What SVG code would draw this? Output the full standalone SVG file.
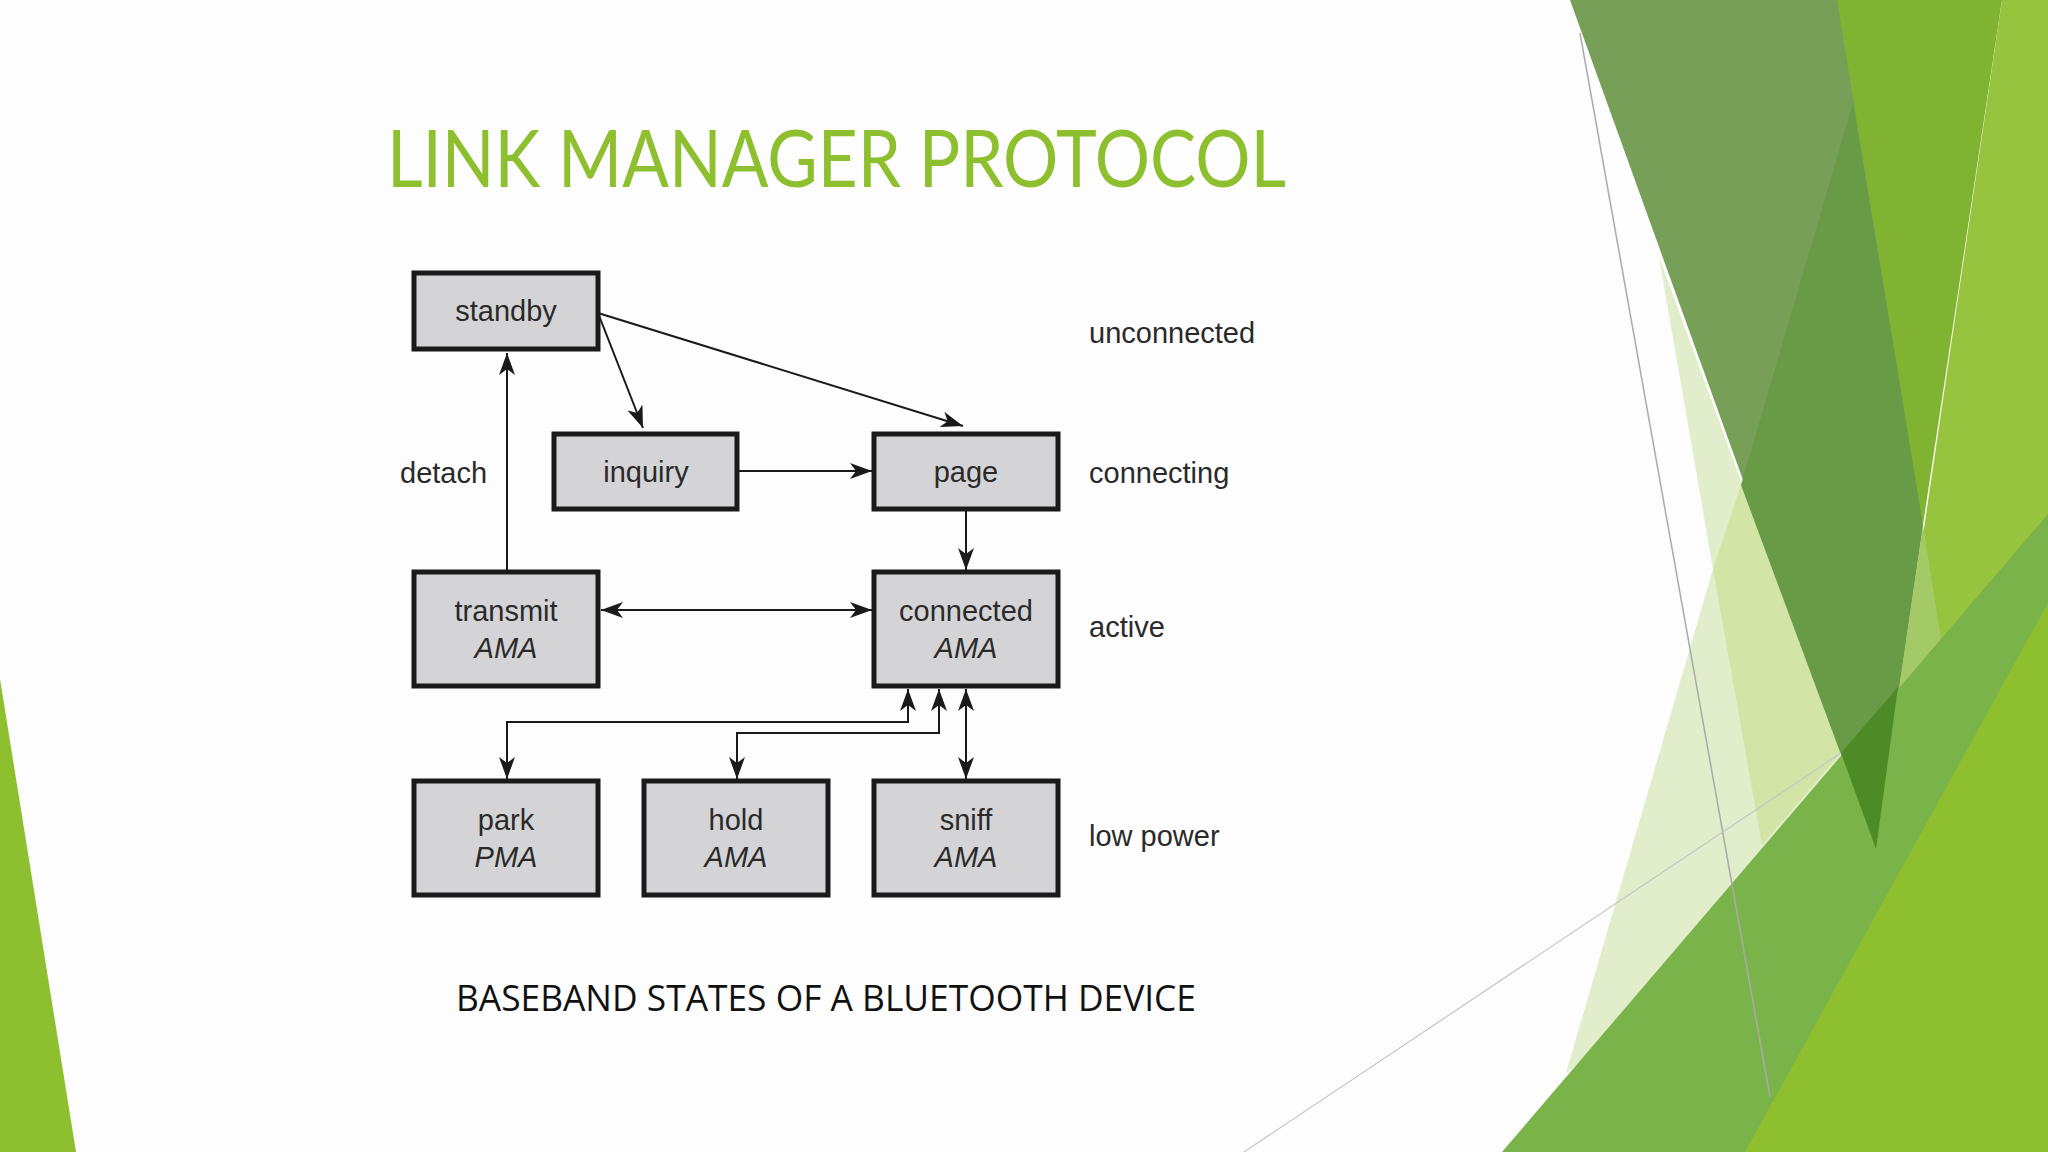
<svg xmlns="http://www.w3.org/2000/svg" width="2048" height="1152" viewBox="0 0 2048 1152">
<style>
.box{fill:#d4d4d6;stroke:#1a1a1a;stroke-width:5}
.t{font-family:"Liberation Sans",Arial,sans-serif;font-size:29px;fill:#2a2a2a;text-anchor:middle}
.i{font-style:italic}
.lbl{font-family:"Liberation Sans",Arial,sans-serif;font-size:29px;fill:#2a2a2a}
.c{fill:none;stroke:#1a1a1a;stroke-width:2}
</style>
<defs>
<marker id="a" markerUnits="userSpaceOnUse" markerWidth="24" markerHeight="16" refX="22" refY="8" orient="auto-start-reverse">
<path d="M0,0 L22,8 L0,16 L6,8 Z" fill="#1a1a1a"/>
</marker>
</defs>
<rect width="2048" height="1152" fill="#fdfdfd"/>
<g id="background">
<polygon points="0,679 76,1152 0,1152" fill="#8dbf2f"/>
<polygon points="1659,257 1876,849 1566,1073 1713,569" fill="#e2edcb"/>
<polygon points="1741,485 1841,753 1762,845 1713,569" fill="#d3e5a6"/>
<polygon points="1570,0 1855,0 1923,525 1876,849" fill="#789f58"/>
<polygon points="1853,103 1923,525 1876,849 1741,485" fill="#699a45"/>
<polygon points="1837,0 2002,0 1923,525" fill="#80b332"/>
<polygon points="2002,0 2048,0 2048,1152 1832,1152" fill="#97c43e"/>
<polygon points="1923,525 1960,760 1888,889 1863,933" fill="#a3ca66"/>
<polygon points="1502,1152 2048,514 2048,1152" fill="#7ab34a"/>
<polygon points="1841,753 1898,687 1876,849" fill="#4e8b26"/>
<polygon points="1745,1152 2048,603 2048,1152" fill="#8ebf2e"/>
<line x1="1580" y1="33" x2="1770" y2="1097" stroke="#aaa" stroke-width="1.5"/>
<line x1="1244" y1="1152" x2="1841" y2="753" stroke="#c4c4c4" stroke-width="1.2"/>
</g>
<text x="387" y="187" font-family="Lato,'Open Sans',sans-serif" font-size="80" fill="#8dbf2f" textLength="899" lengthAdjust="spacingAndGlyphs">LINK MANAGER PROTOCOL</text>
<g id="connectors">
<line class="c" x1="598" y1="313" x2="643" y2="428" marker-end="url(#a)"/>
<line class="c" x1="598" y1="313" x2="963" y2="426" marker-end="url(#a)"/>
<line class="c" x1="737" y1="471" x2="872" y2="471" marker-end="url(#a)"/>
<line class="c" x1="966" y1="509" x2="966" y2="570" marker-end="url(#a)"/>
<line class="c" x1="507" y1="572" x2="507" y2="353" marker-end="url(#a)"/>
<line class="c" x1="601" y1="610" x2="872" y2="610" marker-start="url(#a)" marker-end="url(#a)"/>
<polyline class="c" points="908,689 908,722 507,722 507,779" marker-start="url(#a)" marker-end="url(#a)"/>
<polyline class="c" points="939,689 939,733 737,733 737,779" marker-start="url(#a)" marker-end="url(#a)"/>
<line class="c" x1="966" y1="689" x2="966" y2="779" marker-start="url(#a)" marker-end="url(#a)"/>
</g>
<g id="standby"><rect class="box" x="414" y="273" width="184" height="76"/><text class="t" x="506" y="321">standby</text></g>
<g id="inquiry"><rect class="box" x="554" y="434" width="183" height="75"/><text class="t" x="646" y="482">inquiry</text></g>
<g id="page"><rect class="box" x="874" y="434" width="184" height="75"/><text class="t" x="966" y="482">page</text></g>
<g id="transmit"><rect class="box" x="414" y="572" width="184" height="114"/><text class="t" x="506" y="621">transmit</text><text class="t i" x="506" y="658">AMA</text></g>
<g id="connected"><rect class="box" x="874" y="572" width="184" height="114"/><text class="t" x="966" y="621">connected</text><text class="t i" x="966" y="658">AMA</text></g>
<g id="park"><rect class="box" x="414" y="781" width="184" height="114"/><text class="t" x="506" y="830">park</text><text class="t i" x="506" y="867">PMA</text></g>
<g id="hold"><rect class="box" x="644" y="781" width="184" height="114"/><text class="t" x="736" y="830">hold</text><text class="t i" x="736" y="867">AMA</text></g>
<g id="sniff"><rect class="box" x="874" y="781" width="184" height="114"/><text class="t" x="966" y="830">sniff</text><text class="t i" x="966" y="867">AMA</text></g>
<g id="labels">
<text class="lbl" x="400" y="483">detach</text>
<text class="lbl" x="1089" y="343">unconnected</text>
<text class="lbl" x="1089" y="483">connecting</text>
<text class="lbl" x="1089" y="637">active</text>
<text class="lbl" x="1089" y="846">low power</text>
</g>
<text x="456" y="1011" font-family="'Open Sans',Lato,sans-serif" font-size="36" fill="#111" textLength="740" lengthAdjust="spacingAndGlyphs">BASEBAND STATES OF A BLUETOOTH DEVICE</text>
</svg>
